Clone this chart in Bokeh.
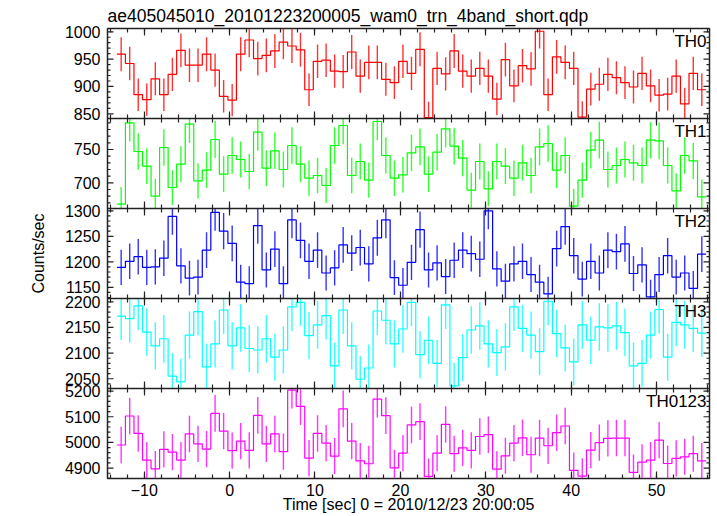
import numpy as np
from bokeh.plotting import figure
from bokeh.models import Range1d, LinearAxis, FixedTicker, Label, CustomJSTickFormatter
from bokeh.embed import file_html
from bokeh.resources import INLINE

# ---------------- data ----------------
TIME = [round(-12.7 + i, 1) for i in range(69)]   # 1-s bin centres
BIN_HALF = 0.5

TH0 = [959, 942, 885, 876, 914, 885, 922, 966, 939, 939, 959, 930, 882, 875, 959, 985, 951, 957, 965, 981,
       974, 967, 894, 946, 948, 928, 927, 963, 919, 944, 944, 913, 907, 946, 924, 968, 843, 933, 923, 965,
       928, 919, 933, 919, 877, 949, 901, 938, 932, 1001, 885, 954, 944, 933, 844, 895, 904, 922, 916, 907,
       899, 924, 901, 884, 886, 919, 868, 924, 894]
TH1 = [668, 790, 747, 725, 680, 753, 693, 728, 788, 703, 719, 765, 713, 741, 735, 717, 776, 722, 748, 720,
       756, 728, 707, 711, 696, 756, 786, 711, 732, 704, 792, 741, 707, 712, 745, 754, 713, 746, 781, 755,
       737, 689, 732, 691, 732, 725, 707, 730, 711, 754, 759, 719, 741, 665, 704, 749, 764, 720, 726, 735,
       730, 726, 764, 763, 726, 688, 741, 733, 679]
TH2 = [1189, 1201, 1210, 1189, 1190, 1207, 1289, 1192, 1168, 1170, 1223, 1297, 1260, 1236, 1160, 1157, 1271,
       1184, 1225, 1157, 1282, 1242, 1201, 1223, 1178, 1188, 1233, 1217, 1228, 1196, 1247, 1282, 1169, 1154,
       1199, 1263, 1184, 1198, 1171, 1203, 1223, 1216, 1205, 1300, 1186, 1162, 1196, 1201, 1175, 1160, 1137,
       1226, 1269, 1212, 1166, 1201, 1178, 1223, 1220, 1235, 1177, 1194, 1131, 1175, 1212, 1170, 1178, 1148,
       1215]
TH3 = [2172, 2167, 2192, 2141, 2114, 2128, 2055, 2044, 2135, 2181, 2073, 2118, 2184, 2114, 2149, 2109, 2106,
       2128, 2092, 2106, 2190, 2199, 2134, 2155, 2173, 2075, 2184, 2114, 2049, 2071, 2182, 2164, 2118, 2147,
       2199, 2097, 2125, 2080, 2194, 2036, 2091, 2145, 2153, 2118, 2101, 2112, 2190, 2148, 2135, 2103, 2201,
       2138, 2110, 2083, 2155, 2125, 2151, 2149, 2153, 2140, 2075, 2080, 2135, 2185, 2092, 2160, 2155, 2148,
       2139]
TH0123 = [4990, 5103, 5035, 4931, 4897, 4973, 4962, 4931, 5033, 4994, 4974, 5113, 5044, 4968, 5005, 4969,
          5105, 4994, 5033, 4964, 5204, 5140, 4939, 5035, 4997, 4947, 5131, 5005, 4928, 4917, 5169, 5104,
          4901, 4958, 5068, 5081, 4868, 4958, 5070, 4956, 4979, 4969, 5023, 5030, 4896, 4948, 4997, 5018,
          4952, 5017, 4987, 5038, 5064, 4891, 4869, 4970, 4999, 5016, 5017, 5017, 4883, 4923, 4931, 5009,
          4918, 4938, 4944, 4956, 4928]

NAMES = ["TH0", "TH1", "TH2", "TH3", "TH0123"]
SERIES = [TH0, TH1, TH2, TH3, TH0123]
COLORS = ["#ff0000", "#00ff00", "#0000ff", "#00ffff", "#ff00ff"]
Y_LIMITS = [(841.4, 1006.0), (661.5, 796.5), (1128.0, 1304.5), (2031.0, 2206.4), (4859.5, 5210.0)]
Y_MAJOR = [[850, 900, 950, 1000], [700, 750], [1150, 1200, 1250, 1300],
           [2050, 2100, 2150, 2200], [4900, 5000, 5100, 5200]]
Y_MINOR_STEP = [10, 10, 10, 10, 20]
X_START, X_END = -14.3, 56.2
X_MAJOR = [-10, 0, 10, 20, 30, 40, 50]
X_MINOR = list(range(-14, 57, 2))

TITLE = "ae405045010_20101223200005_wam0_trn_4band_short.qdp"
X_LABEL = "Time [sec] 0 = 2010/12/23 20:00:05"
Y_LABEL = "Counts/sec"
FONT = "Liberation Sans"
INK = "#222222"

N = len(NAMES)

p = figure(frame_width=602, frame_height=450,
           x_range=Range1d(X_START, X_END), y_range=Range1d(0, N),
           min_border_left=107, min_border_right=8, min_border_top=0, min_border_bottom=0,
           output_backend="svg", toolbar_location=None, title=TITLE)
p.xgrid.visible = False
p.ygrid.visible = False
p.outline_line_color = INK
p.outline_line_width = 1.5
p.background_fill_color = "white"
p.border_fill_color = "white"

p.title.text_font = FONT
p.title.text_font_size = "17.5px"
p.title.text_font_style = "normal"
p.title.align = "left"
p.title.standoff = 6
p.title.text_color = "black"


def ticks_in(ax, major, minor, out=False):
    ax.major_tick_in = major
    ax.minor_tick_in = minor
    ax.major_tick_out = major if out else 0
    ax.minor_tick_out = minor if out else 0
    ax.major_tick_line_color = INK
    ax.minor_tick_line_color = INK
    ax.major_tick_line_width = 1.2
    ax.minor_tick_line_width = 1.2


# bottom x axis with labels
xa = p.xaxis[0]
xa.ticker = FixedTicker(ticks=X_MAJOR, minor_ticks=X_MINOR)
ticks_in(xa, 7, 4)
xa.axis_line_color = None
xa.major_label_text_font = FONT
xa.major_label_text_font_size = "16px"
xa.major_label_text_color = "black"
xa.major_label_standoff = 5
xa.axis_label = X_LABEL
xa.axis_label_text_font = FONT
xa.axis_label_text_font_size = "16px"
xa.axis_label_text_font_style = "normal"
xa.axis_label_text_color = "black"
xa.axis_label_standoff = -3

# top axis and inner panel boundaries (ticks both ways)
top = LinearAxis(fixed_location=N, ticker=FixedTicker(ticks=X_MAJOR, minor_ticks=X_MINOR))
ticks_in(top, 7, 4)
top.axis_line_color = None
top.major_label_text_color = None
p.add_layout(top, "above")
for j in range(1, N):
    ax = LinearAxis(fixed_location=j, ticker=FixedTicker(ticks=X_MAJOR, minor_ticks=X_MINOR))
    ticks_in(ax, 7, 4, out=True)
    ax.axis_line_color = INK
    ax.axis_line_width = 1.5
    ax.major_label_text_color = None
    p.add_layout(ax, "below")

label_pos, label_txt = [], []
for k in range(N):
    name = "p%d" % k
    lo, hi = Y_LIMITS[k]
    span = hi - lo
    p.extra_y_ranges[name] = Range1d(lo - (N - 1 - k) * span, hi + k * span)
    step = Y_MINOR_STEP[k]
    majors = Y_MAJOR[k]
    minors = [float(m) for m in np.arange(np.ceil(lo / step) * step, hi, step) if m not in majors]

    # y tick marks on both frame sides (drawn as screen-length rays)
    for x_side, ang in ((X_START, 0.0), (X_END, np.pi)):
        p.ray(x=[x_side] * len(majors), y=majors, length=6, length_units="screen", angle=ang,
              y_range_name=name, line_color=INK, line_width=1.2)
        p.ray(x=[x_side] * len(minors), y=minors, length=3, length_units="screen", angle=ang,
              y_range_name=name, line_color=INK, line_width=1.2)
    # where this panel's tick values sit on the shared left axis
    for t in majors:
        label_pos.append(round((N - 1 - k) + (t - lo) / span, 6))
        label_txt.append(str(t))

    v = np.array(SERIES[k], dtype=float)
    err = np.sqrt(v)
    edges = [t - BIN_HALF for t in TIME] + [TIME[-1] + BIN_HALF]
    p.segment(x0=TIME, y0=np.clip(v - err, lo, hi), x1=TIME, y1=np.clip(v + err, lo, hi),
              y_range_name=name, line_color=COLORS[k], line_width=1.4, line_alpha=0.8)
    p.step(x=edges, y=list(v) + [v[-1]], mode="after", y_range_name=name,
           line_color=COLORS[k], line_width=1.2)

    p.add_layout(Label(x=X_END, y=N - k, x_offset=-3, y_offset=-3, text=NAMES[k],
                       text_align="right", text_baseline="top", text_font=FONT,
                       text_font_size="17px", text_color="black"))

# shared left axis: per-panel tick labels + the common label
ya = p.yaxis[0]
ya.ticker = FixedTicker(ticks=label_pos, minor_ticks=[])
ya.formatter = CustomJSTickFormatter(args=dict(pos=label_pos, txt=label_txt), code="""
for (let i = 0; i < pos.length; i++) {
    if (Math.abs(tick - pos[i]) < 1e-5) { return txt[i]; }
}
return "";
""")
ya.axis_line_color = None
ya.major_tick_in = 0
ya.major_tick_out = 0
ya.minor_tick_in = 0
ya.minor_tick_out = 0
ya.major_label_standoff = 7
ya.major_label_text_font = FONT
ya.major_label_text_font_size = "16px"
ya.major_label_text_color = "black"
ya.axis_label = Y_LABEL
ya.axis_label_text_font = FONT
ya.axis_label_text_font_size = "16px"
ya.axis_label_text_font_style = "normal"
ya.axis_label_text_color = "black"
ya.axis_label_standoff = 15

open("out.html", "w").write(file_html(p, INLINE))
